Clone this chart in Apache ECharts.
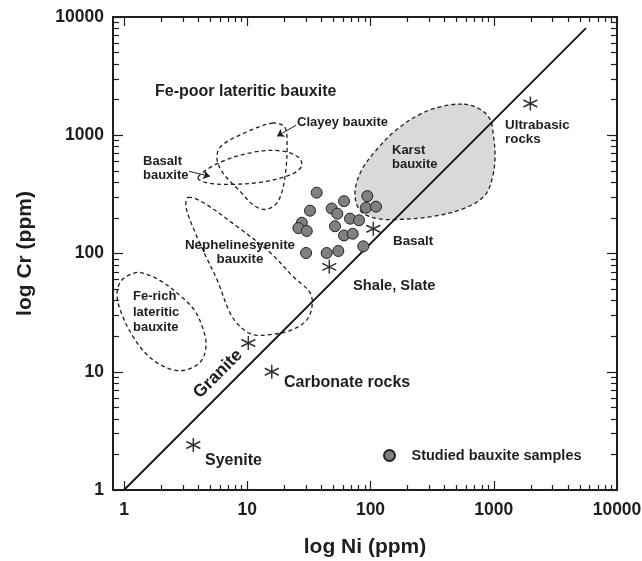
<!DOCTYPE html>
<html><head><meta charset="utf-8">
<script src="https://cdn.jsdelivr.net/npm/echarts@6/dist/echarts.min.js"></script>
<style>html,body{margin:0;padding:0;background:#fff}#c{width:642px;height:561px}</style>
</head><body><div id="c"></div>
<script>
// ---- tick values ----
const majorTicks = [1, 10, 100, 1000, 10000];
const minorTicks = [2,3,4,5,6,7,8,9,20,30,40,50,60,70,80,90,200,300,400,500,600,700,800,900,2000,3000,4000,5000,6000,7000,8000,9000];

// ---- studied bauxite samples [Ni, Cr] (ppm) ----
const samples = [
  [36.6,327],[32.3,230],[27.7,182],[26,164],[30.4,155],[30,101],[44.1,101],[54.8,105],
  [48.4,240],[53.8,217],[61,277],[51.5,170],[68.2,197],[80.7,191],[61,142],[71.7,147],
  [87.4,115],[94.2,306],[91.9,244],[110.9,249]
];

// ---- reference rocks (asterisks) ----
const rockNames = ['Granite','Carbonate rocks','Syenite','Shale, Slate','Basalt','Ultrabasic rocks'];
const rockValues = [[10.2,17.5],[15.8,10],[3.65,2.4],[46.3,77.1],[105.4,162],[1982,1855]];

// ---- 1:1 line ----
const diagLine = [[1,1],[5605,8068]];

// ---- field outlines [Ni, Cr] ----
const clayeyOutline = [[15.88,1264],[19.87,1192],[21.02,925],[20.25,449],[17.77,276],[14.2,236],[11.34,255],[8.9,329],[6.48,467],[5.68,626],[6.12,807],[9.77,1060]];
const basaltOutline = [[3.98,441],[6.01,590],[11.13,718],[18.44,739],[25.33,664],[27.8,568],[25.33,495],[19.5,441],[12.69,400],[7.24,384],[4.71,396]];
const nephOutline = [[3.31,298],[4.38,270],[8.26,169],[15.3,102],[23.5,63.9],[32.3,46.7],[33.5,35.5],[30.0,27.0],[22.2,22.3],[15.3,20.6],[11.13,20.6],[8.73,24.1],[7.24,31.6],[5.68,60.2],[4.54,98],[3.63,166],[3.18,250]];
const feRichOutline = [[1.348,69.0],[1.96,59.0],[2.847,44.1],[3.70,33.5],[4.29,24.5],[4.63,17.6],[4.38,13.1],[3.70,11.0],[2.74,10.2],[1.96,11.5],[1.508,14.2],[1.183,19.8],[0.963,30.4],[0.877,44.1],[0.928,56.8],[1.078,65.1]];
const karstOutline = [[573.6,1830],[773.5,1661],[932.5,1366],[986,1060],[1024,664],[967.8,424],[833.5,304],[573.6,240.6],[321.4,205.9],[173.5,194.2],[110.8,198],[82.2,231.4],[74.8,322.4],[83.7,495.3],[112.9,761],[164.1,1124],[261.7,1536],[387.4,1761]];

// ---- arrows (from, to) ----
const arrows = [
  [[24.86,1215],[17.43,980]],
  [[3.37,495],[4.99,449]]
];

const FONT = "'Liberation Sans', Arial, Helvetica, sans-serif";
const INK = '#1e1e1e';

function axisDef(dim, pos, major, showLine, extra) {
  const isX = dim === 'x';
  const a = {
    type: 'log', logBase: 10, position: pos,
    min: isX ? 0.814 : 1, max: 10000,
    axisLine: {show: showLine, onZero: false, lineStyle: {color: INK, width: 2}},
    axisTick: {show: true, inside: true, length: major ? (isX ? 9 : 10) : (isX ? 5 : 6),
      customValues: major ? majorTicks : minorTicks, lineStyle: {color: INK, width: 1.2}},
    axisLabel: {show: false},
    splitLine: {show: false}, minorTick: {show: false}, minorSplitLine: {show: false}
  };
  return Object.assign(a, extra || {});
}

const labelStyle = {show: true, customValues: majorTicks, fontSize: 17.5, fontWeight: 'bold',
  color: INK, fontFamily: FONT, formatter: v => String(Math.round(v))};

const xAxes = [
  axisDef('x','bottom',true,true,{axisLabel: Object.assign({margin: 11}, labelStyle),
    name: 'log Ni (ppm)', nameLocation: 'middle', nameGap: 47,
    nameTextStyle: {fontSize: 21, fontWeight: 'bold', color: INK, fontFamily: FONT}}),
  axisDef('x','bottom',false,false),
  axisDef('x','top',true,true),
  axisDef('x','top',false,false)
];
const yAxes = [
  axisDef('y','left',true,true,{axisLabel: Object.assign({margin: 9}, labelStyle),
    name: 'log Cr (ppm)', nameLocation: 'middle', nameGap: 77,
    nameTextStyle: {fontSize: 21, fontWeight: 'bold', color: INK, fontFamily: FONT}}),
  axisDef('y','left',false,false),
  axisDef('y','right',true,true),
  axisDef('y','right',false,false)
];

function regionSeries(name, outline, fill) {
  return {
    type: 'custom', name: name, z: 1, silent: true, clip: true,
    xAxisIndex: 0, yAxisIndex: 0,
    data: outline,
    renderItem: function (params, api) {
      if (params.dataIndex !== 0) return null;
      const pts = outline.map(p => api.coord(p));
      return {type: 'polygon', shape: {points: pts, smooth: 0.35},
        style: {fill: fill, stroke: INK, lineWidth: 1.3, lineDash: [4, 3]}};
    }
  };
}

const starPath = 'path://M0,-7L0,7M-7,-3.5L7,3.5M-7,3.5L7,-3.5';

function txt(x, y, s, size, opts) {
  return Object.assign({type: 'text', x: x, y: y, silent: true, z: 10,
    style: {text: s, fill: INK, font: 'bold ' + size + 'px ' + FONT,
      textAlign: 'left', textVerticalAlign: 'middle', align: 'left', verticalAlign: 'middle'}}, opts || {});
}

const option = {
  backgroundColor: '#fff',
  animation: false,
  grid: {left: 113, right: 25, top: 17, bottom: 71, containLabel: false, outerBoundsMode: 'none'},
  xAxis: xAxes,
  yAxis: yAxes,
  legend: {
    data: ['Studied bauxite samples'], left: 378, top: 443,
    itemWidth: 34, itemHeight: 11, icon: 'circle',
    textStyle: {fontSize: 14.5, fontWeight: 'bold', color: INK, fontFamily: FONT},
    selectedMode: false
  },
  series: [
    regionSeries('Karst bauxite', karstOutline, '#d9d9d9'),
    regionSeries('Clayey bauxite', clayeyOutline, 'none'),
    regionSeries('Basalt bauxite', basaltOutline, 'none'),
    regionSeries('Nephelinesyenite bauxite', nephOutline, 'none'),
    regionSeries('Fe-rich lateritic bauxite', feRichOutline, 'none'),
    {
      type: 'line', name: '1:1', data: diagLine, z: 2, symbol: 'none', silent: true,
      lineStyle: {color: '#111', width: 1.8},
      markLine: {
        silent: true, symbol: ['none', 'arrow'], symbolSize: 7, animation: false,
        lineStyle: {type: 'solid', color: INK, width: 1}, label: {show: false},
        data: arrows.map(a => [{coord: a[0]}, {coord: a[1]}])
      }
    },
    {
      type: 'scatter', name: 'Rocks', z: 3, symbol: starPath, symbolSize: 14,
      data: rockValues.map((v, i) => ({name: rockNames[i], value: v})),
      itemStyle: {color: 'rgba(0,0,0,0)', borderColor: '#000', borderWidth: 1.5}
    },
    {
      type: 'scatter', name: 'Studied bauxite samples', z: 4, symbol: 'circle', symbolSize: 11,
      data: samples,
      itemStyle: {color: '#808080', borderColor: '#222', borderWidth: 1, opacity: 1}
    }
  ],
  graphic: [
    txt(155, 92, 'Fe-poor lateritic bauxite', 16),
    txt(297, 122, 'Clayey bauxite', 13),
    txt(143, 161, 'Basalt', 13),
    txt(143, 175.5, 'bauxite', 13),
    {type: 'text', x: 240, y: 245, silent: true, z: 10, style: {text: 'Nephelinesyenite', fill: INK, font: 'bold 13.4px ' + FONT, textAlign: 'center', align: 'center', textVerticalAlign: 'middle', verticalAlign: 'middle'}},
    {type: 'text', x: 240, y: 259, silent: true, z: 10, style: {text: 'bauxite', fill: INK, font: 'bold 13.4px ' + FONT, textAlign: 'center', align: 'center', textVerticalAlign: 'middle', verticalAlign: 'middle'}},
    txt(133, 296, 'Fe-rich', 13),
    txt(133, 312, 'lateritic', 13),
    txt(133, 327, 'bauxite', 13),
    txt(392, 150, 'Karst', 13),
    txt(392, 164.5, 'bauxite', 13),
    txt(505, 125, 'Ultrabasic', 13.4),
    txt(505, 139.5, 'rocks', 13.4),
    txt(393, 241, 'Basalt', 13.4),
    txt(353, 286, 'Shale, Slate', 14.7),
    txt(284, 383, 'Carbonate rocks', 16),
    txt(205, 461, 'Syenite', 16),
    {type: 'text', x: 218, y: 374, rotation: Math.PI / 4, silent: true, z: 10,
      style: {text: 'Granite', fill: INK, font: 'bold 17.5px ' + FONT, textAlign: 'center', align: 'center', textVerticalAlign: 'middle', verticalAlign: 'middle'}}
  ]
};

const chart = echarts.init(document.getElementById('c'), null, {renderer: 'canvas'});
chart.setOption(option);
</script>
</body></html>
